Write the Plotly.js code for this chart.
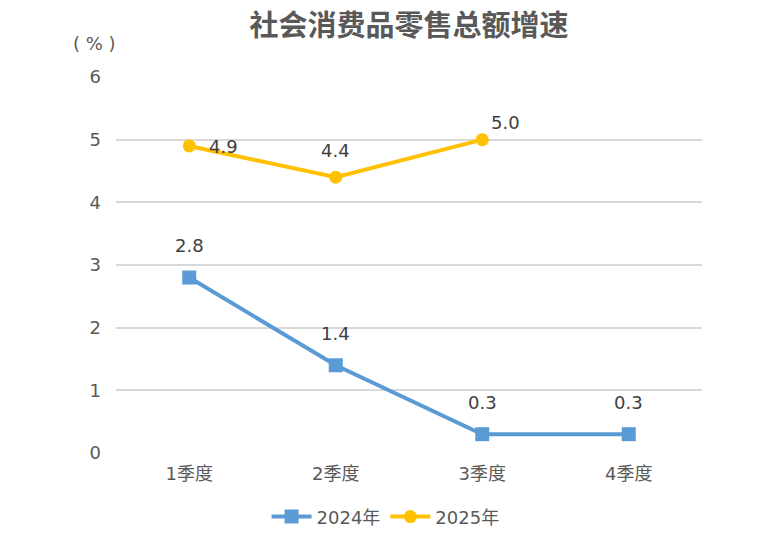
<!DOCTYPE html>
<html><head><meta charset="utf-8">
<script src="https://cdn.plot.ly/plotly-3.0.1.min.js"></script>
<style>html,body{margin:0;padding:0;background:#fff;}#chart{width:760px;height:547px;}</style>
</head><body><div id="chart"></div>
<script>
const categories = ['1季度','2季度','3季度','4季度'];
const values2024 = [2.8, 1.4, 0.3, 0.3];
const values2025 = [4.9, 4.4, 5.0];
const yTicks = [0,1,2,3,4,5,6];

const FONT = 'DejaVu Sans, Noto Sans CJK SC, sans-serif';
const blue = '#5B9BD5', gold = '#FFC000';

const traces = [
  {x: categories, y: values2024, name: '2024年', type: 'scatter', mode: 'lines+markers',
   line: {color: blue, width: 4}, marker: {symbol: 'square', size: 14, color: blue}},
  {x: categories.slice(0, values2025.length), y: values2025, name: '2025年', type: 'scatter', mode: 'lines+markers',
   line: {color: gold, width: 4}, marker: {symbol: 'circle', size: 13, color: gold}}
];

const annotations = [];
values2024.forEach((v,i)=>annotations.push({x: categories[i], y: v, text: v.toFixed(1), showarrow: false,
  xref:'x', yref:'y', yshift: 32, font:{family: FONT, size: 18, color:'#404040'}}));
const off2025 = [[34,-1],[0,27],[23,17]];
values2025.forEach((v,i)=>annotations.push({x: categories[i], y: v, text: v.toFixed(1), showarrow: false,
  xref:'x', yref:'y', xshift: off2025[i][0], yshift: off2025[i][1], font:{family: FONT, size: 18, color:'#404040'}}));
annotations.push({xref:'paper', yref:'paper', x:-0.036, y:1.0, yshift: 34, xanchor:'center', yanchor:'middle', showarrow:false,
  text:'( % )', font:{family: FONT, size:18, color:'#595959'}});

const layout = {
  width: 760, height: 547,
  margin: {l:116, r:58, t:77, b:92},
  paper_bgcolor: '#fff', plot_bgcolor: '#fff',
  title: {text: '社会消费品零售总额增速', x: 0.5, xref: 'paper', y: 0.952, yanchor:'middle',
    font: {family: 'Noto Sans CJK SC, sans-serif', size: 29, color: '#595959', weight: 'bold'}},
  xaxis: {type:'category', range:[-0.5, 3.5], showgrid:false, zeroline:false, showline:false, ticks:'',
    tickfont:{family: FONT, size:18, color:'#595959'}, ticklabelstandoff: 8},
  yaxis: {range:[0, 6], tickvals: yTicks, showgrid:true, gridcolor:'#D9D9D9', gridwidth:2, zeroline:false,
    showline:false, ticks:'', tickfont:{family: FONT, size:18, color:'#595959'}, ticklabelstandoff: 14},
  showlegend: true,
  legend: {orientation:'h', x:0.46, xanchor:'center', y:-0.17, yanchor:'middle',
    font:{family: FONT, size:18, color:'#595959'}, itemwidth: 40},
  annotations: annotations
};
Plotly.newPlot('chart', traces, layout, {displayModeBar:false, staticPlot:true});
</script></body></html>
